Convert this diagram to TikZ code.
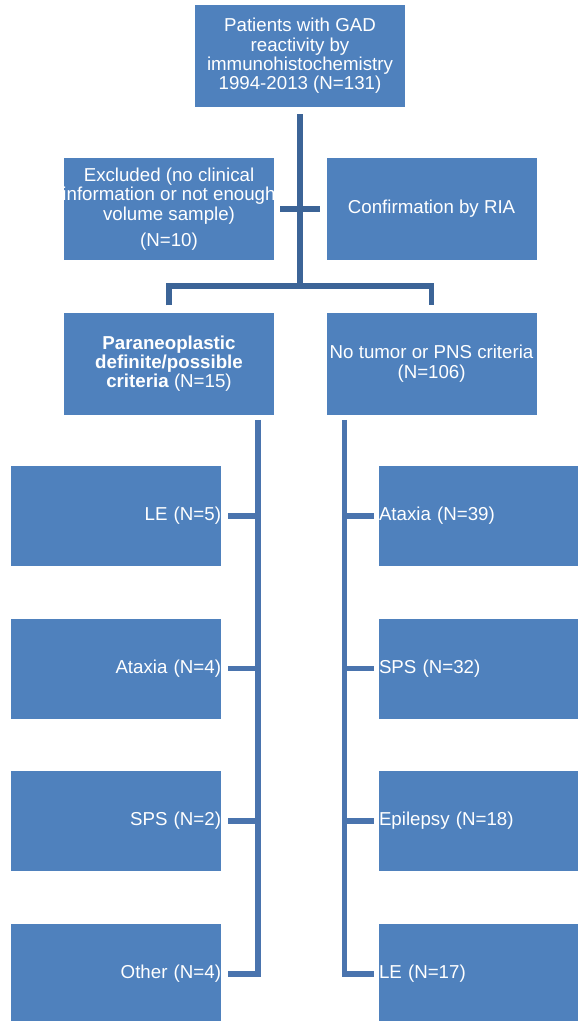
\documentclass[tikz,border=0pt]{standalone}
\usepackage{fontspec}
\setmainfont{Liberation Sans}
\usetikzlibrary{positioning, calc}
\definecolor{boxblue}{HTML}{4F81BD}
\definecolor{linkdark}{HTML}{3C6497}
\definecolor{linkblue}{HTML}{4A74AE}

\begin{document}
\begin{tikzpicture}[
      box/.style={fill=boxblue, text=white, minimum width=5.25cm,
        minimum height=2.55cm, inner xsep=0pt, inner ysep=0pt, align=center},
      leftleaf/.style={fill=boxblue, text=white, text width=5.25cm,
        minimum height=2.5cm, inner xsep=0pt, align=right},
      rightleaf/.style={fill=boxblue, text=white, text width=4.975cm,
        minimum height=2.5cm, inner xsep=0pt, align=left},
      trunk/.style={draw=linkdark, line width=4pt},
      link/.style={draw=linkblue, line width=4pt},
      font=\fontsize{13.3pt}{13.8pt}\selectfont
    ]
      \useasboundingbox (0,0) rectangle (14.45,-25.525);

      \node[box] (patients) at (7.5,-1.4)
        {Patients with GAD\\reactivity by\\immunohistochemistry\\1994-2013 (N=131)};
      \node[box] (excluded) at (4.225,-5.225)
        {Excluded (no clinical\\\makebox[5.2cm]{information or not enough}\\volume sample)\\[5pt](N=10)};
      \node[box, right=1.3cm of excluded] (ria) {Confirmation by RIA};
      \node[box, below=1.3cm of excluded] (para)
        {\textbf{Paraneoplastic}\\\textbf{definite/possible}\\\textbf{criteria} (N=15)};
      \node[box, right=1.3cm of para] (notumor)
        {No tumor or PNS criteria\\(N=106)};

      % left column
      \node[leftleaf] (lle) at (2.9,-12.9) {LE (N=5)};
      \node[leftleaf, below=1.3cm of lle] (lataxia) {Ataxia (N=4)};
      \node[leftleaf, below=1.3cm of lataxia] (lsps) {SPS (N=2)};
      \node[leftleaf, below=1.3cm of lsps] (lother) {Other (N=4)};

      % right column
      \node[rightleaf] (rataxia) at (11.9625,-12.9) {Ataxia (N=39)};
      \node[rightleaf, below=1.3cm of rataxia] (rsps) {SPS (N=32)};
      \node[rightleaf, below=1.3cm of rsps] (repil) {Epilepsy (N=18)};
      \node[rightleaf, below=1.3cm of repil] (rle) {LE (N=17)};

      \coordinate (fork) at (7.5,-7.15);
      \coordinate (ltop) at ($(para.south)+(2.225,-0.125)$);
      \coordinate (rtop) at ($(notumor.south)+(-2.175,-0.125)$);

      \draw[trunk] ([yshift=-0.175cm]patients.south) -- (fork);
      \draw[trunk] ([xshift=0.15cm]excluded.east) -- ([xshift=-0.15cm]ria.west);
      \draw[trunk] ([yshift=0.175cm]para.north) |- (fork)
        -| ([yshift=0.175cm]notumor.north);

      \draw[link] (ltop) |- ([xshift=0.175cm]lother.east);
      \foreach \leaf in {lle, lataxia, lsps}
        \draw[link] ([xshift=0.175cm]\leaf.east) -- (\leaf.east -| ltop);

      \draw[link] (rtop) |- ([xshift=-0.125cm]rle.west);
      \foreach \leaf in {rataxia, rsps, repil}
        \draw[link] ([xshift=-0.125cm]\leaf.west) -- (\leaf.west -| rtop);
    \end{tikzpicture}
\end{document}
